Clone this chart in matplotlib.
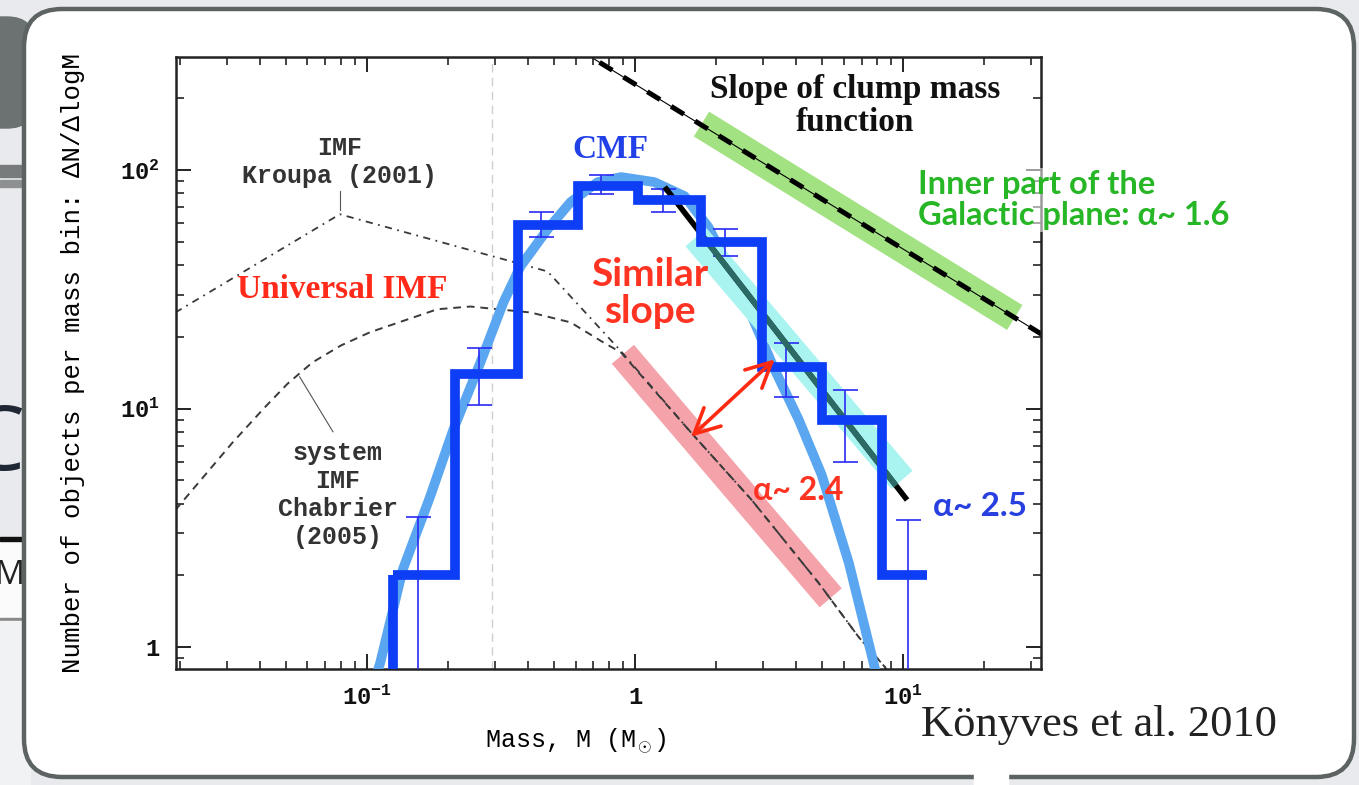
import numpy as np
import matplotlib.pyplot as plt
from matplotlib.patches import FancyBboxPatch, Rectangle

plt.rcParams['font.family'] = ['Liberation Mono', 'DejaVu Sans']
plt.rcParams['font.weight'] = 'bold'
plt.rcParams['mathtext.fontset'] = 'custom'
plt.rcParams['mathtext.rm'] = 'Liberation Mono:bold'
plt.rcParams['mathtext.it'] = 'Liberation Mono:bold'
plt.rcParams['mathtext.bf'] = 'Liberation Mono:bold'

W, H = 1359, 785

# clump mass function histogram (Konyves et al. 2010)
bin_edges = [0.125, 0.214, 0.365, 0.612, 1.03, 1.77, 2.97, 4.97, 8.34, 12.3]
bin_counts = [2, 14, 59, 86, 75, 50, 15, 9, 2]

# error bars
err_mass = [0.155, 0.261, 0.445, 0.746, 1.27, 2.17, 3.65, 6.07, 10.4]
err_low = [0.6, 10.4, 52.2, 79.3, 66.5, 43.5, 11.2, 6.0, 0.6]
err_high = [3.5, 17.9, 66.7, 95.2, 83.5, 56.5, 18.9, 12.0, 3.4]

# lognormal fit to the CMF
fit_mass = [0.104, 0.112, 0.136, 0.172, 0.210, 0.265, 0.323, 0.374, 0.472, 0.575,
            0.726, 0.887, 1.18, 1.53, 1.88, 2.49, 3.29, 4.08, 4.97, 6.28, 7.85]
fit_n = [0.66, 0.857, 2.11, 4.27, 8.16, 15.6, 27.9, 39.5, 56.5, 73.4,
         89.1, 93.5, 89.1, 77.8, 57.6, 31.0, 14.9, 8.99, 5.28, 2.25, 0.816]

# IMF curves
kroupa_mass = [0.0193, 0.0792, 0.323, 0.472, 0.887, 1.62, 2.72, 4.84, 6.84, 8.57, 9.5]
kroupa_n = [25.3, 65.3, 42.3, 37.6, 17.4, 7.93, 4.15, 1.86, 1.10, 0.824, 0.66]
chabrier_mass = [0.0193, 0.0315, 0.0415, 0.0505, 0.0625, 0.0800, 0.1026, 0.183, 0.243,
                 0.408, 0.575, 0.765, 0.887, 1.62, 2.72, 4.84, 6.84, 8.57, 9.5]
chabrier_n = [3.76, 7.20, 10.1, 12.7, 15.6, 18.4, 20.9, 26.1, 26.8,
              25.3, 23.0, 18.9, 17.2, 7.93, 4.15, 1.86, 1.10, 0.824, 0.66]

# slope lines and highlight bands
clump_mass = [0.601, 34.6]
clump_n = [326, 19.8]
green_mass = [1.77, 26.1]
green_n = [156, 24.1]
cmf_slope_mass = [1.31, 10.2]
cmf_slope_n = [83.2, 4.23]
cyan_mass = [1.69, 9.91]
cyan_n = [52.3, 5.03]
pink_mass = [0.901, 5.37]
pink_n = [16.9, 1.61]
completeness = 0.294
arrow_from = (1.62, 7.63)
arrow_to = (3.32, 16.1)

fig = plt.figure(figsize=(W / 100, H / 100), dpi=100)

# slide background, in pixel coordinates
bg = fig.add_axes([0, 0, 1, 1], zorder=-5)
bg.set_xlim(0, W)
bg.set_ylim(H, 0)
bg.axis('off')
bg.add_patch(Rectangle((0, 0), W, H, color='#e8eaed'))
bg.add_patch(FancyBboxPatch((-40, 17), 75, 111, boxstyle='round,pad=0,rounding_size=28',
                            color='#6c7171'))
bg.add_patch(Rectangle((0, 165), 30, 12, color='#777b7b'))
bg.add_patch(Rectangle((0, 180), 30, 7, color='#8d9191'))
bg.add_patch(Rectangle((0, 541), 30, 80, color='#fbfbfb'))
bg.add_patch(Rectangle((0, 537), 30, 4, color='#111111'))
bg.add_patch(Rectangle((0, 618), 30, 3, color='#8a8a8a'))
bg.add_patch(Rectangle((0, 621), 30, 170, color='#f1f2f3'))
bg.text(25, 447, 'C', fontsize=64, family='Open Sans', weight='normal', color='#1f2734',
        ha='right', va='center')
bg.text(25, 575, 'M', fontsize=24, family='Open Sans', weight='normal', color='#222222',
        ha='right', va='center')
bg.add_patch(FancyBboxPatch((24, 9), 1330, 768, boxstyle='round,pad=0,rounding_size=38',
                            facecolor='white', edgecolor='#5d6262', lw=3.2))
bg.add_patch(Rectangle((974, 773), 34, 14, color='white'))

ax = fig.add_axes([176 / W, 1 - 669 / H, 865 / W, 612 / H])
ax.set_xscale('log')
ax.set_yscale('log')
ax.set_xlim(0.0194, 32.7)
ax.set_ylim(0.81, 298)

ax.axvline(completeness, color='#cfcfcf', lw=1, ls=(0, (6, 4)), zorder=1)

ax.plot(pink_mass, pink_n, color='#f5a3ab', lw=21, solid_capstyle='butt', zorder=1.5)
ax.plot(green_mass, green_n, color='#a3e283', lw=21, solid_capstyle='butt', zorder=1.5)

ax.plot(kroupa_mass, kroupa_n, color='#3a3a3a', lw=1.3, ls=(0, (4, 3, 1, 3)), zorder=2)
ax.plot(chabrier_mass, chabrier_n, color='#3a3a3a', lw=1.4, ls=(0, (4, 3)), zorder=2)

ax.plot(clump_mass, clump_n, color='black', lw=0.8, zorder=2.5)
ax.plot(clump_mass, clump_n, color='black', lw=3.6, ls=(0, (3, 2.6)), zorder=2.5)

ax.plot(fit_mass, fit_n, color='#5aa6f0', lw=7, zorder=3)

ax.plot(cyan_mass, cyan_n, color='#a9f3f1', lw=20, solid_capstyle='butt', zorder=3.2)

lo = np.array(err_low)
hi = np.array(err_high)
mid = np.array(bin_counts, dtype=float)
ax.errorbar(err_mass, mid, yerr=[mid - lo, hi - mid], fmt='none', ecolor='#2a2af5',
            elinewidth=1.2, capsize=9, capthick=1.2, zorder=3.4)

ax.plot(cmf_slope_mass, cmf_slope_n, color='black', lw=4, zorder=3.6)
lx = np.log10(cmf_slope_mass)
ly = np.log10(cmf_slope_n)
tx = np.log10([cyan_mass[0] * 1.03, cyan_mass[1] * 0.95])
ty = np.interp(tx, lx, ly)
ax.plot(10 ** tx, 10 ** ty, color='#2c6a66', lw=4.2, solid_capstyle='butt', zorder=3.7)

ax.stairs(bin_counts, bin_edges, baseline=None, color='#0d3ef5', lw=7, zorder=4)
ax.vlines(bin_edges[0], 0.5, bin_counts[0], color='#0d3ef5', lw=7, zorder=4)

ax.annotate('', xy=arrow_to, xytext=arrow_from,
            arrowprops=dict(arrowstyle='<->,head_length=1.8,head_width=0.9',
                            color='#ff2a12', lw=2.6, shrinkA=0, shrinkB=0), zorder=5)

ax.set_xticks([0.1, 1, 10])
ax.set_xticklabels(['$10^{-1}$', '1', '$10^{1}$'])
ax.set_yticks([1, 10, 100])
ax.set_yticklabels(['1', '$10^{1}$', '$10^{2}$'])
ax.tick_params(which='both', direction='in', top=True, right=True, labelsize=17,
               colors='#111111')
ax.tick_params(which='major', length=11, width=1.3, pad=12)
ax.tick_params(which='minor', length=6, width=1.1)
for s in ax.spines.values():
    s.set_linewidth(1.8)
    s.set_color('#222222')

ax.set_xlabel('Mass, M (M$_\\odot$)', fontsize=18)
ax.xaxis.set_label_coords((576 - 176) / 865, (669 - 727) / 612)
ax.set_ylabel('Number of objects per mass bin: \u0394N/\u0394logM', fontsize=18.5)
ax.yaxis.set_label_coords((85 - 176) / 865, (669 - 363) / 612)


def put(x, y, s, **kw):
    fig.text(x, y, s, transform=bg.transData, ha='center', va='center', zorder=10, **kw)


put(340, 162, 'IMF\nKroupa (2001)', fontsize=18, color='#333333', linespacing=1.2)
put(338, 495, 'system\nIMF\nChabrier\n(2005)', fontsize=18, color='#333333', linespacing=1.2)
ax.plot([0.0792, 0.0792], [68, 82], color='#555555', lw=0.8, zorder=2)
ax.plot([0.0561, 0.0747], [13.6, 8.0], color='#555555', lw=0.8, zorder=2)

put(342, 290, 'Universal IMF', fontsize=24, color='#ff2a1a', family='Liberation Serif',
    weight='bold')
put(610, 150, 'CMF', fontsize=24, color='#2140e8', family='Liberation Serif', weight='bold')
put(650, 293, 'Similar\nslope', fontsize=28, color='#ff3322', family='Lato', weight='bold',
    linespacing=1.05)
put(855, 106, 'Slope of clump mass\nfunction', fontsize=24, color='#111111',
    family='Liberation Serif', weight='bold', linespacing=1.05)
fig.text(918, 200, 'Inner part of the\nGalactic plane: \u03b1~ 1.6', transform=bg.transData,
         ha='left', va='center', fontsize=23.5, color='#26b626', family='Lato', weight='bold',
         linespacing=1.1, zorder=10,
         bbox=dict(facecolor='white', alpha=0.55, edgecolor='none', pad=1))
put(798, 490, '\u03b1~ 2.4', fontsize=23, color='#ff3322', family='Lato', weight='bold')
put(980, 507, '\u03b1~ 2.5', fontsize=24, color='#2840e0', family='Lato', weight='bold')
put(1099, 725, 'K\u00f6nyves et al. 2010', fontsize=32, color='#222222',
    family='Liberation Serif', weight='normal')

fig.savefig('out.png', dpi=100)
